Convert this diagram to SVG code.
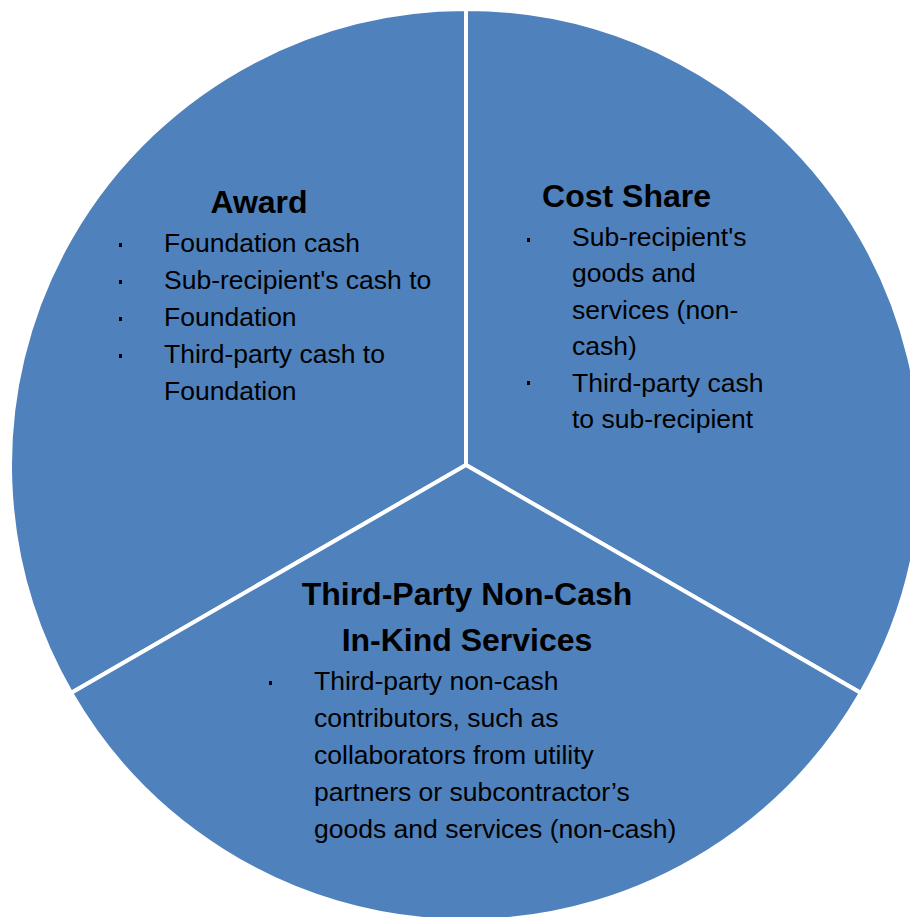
<svg xmlns="http://www.w3.org/2000/svg" width="910" height="917" viewBox="0 0 910 917">
<style>
.sector{fill:#4F81BD;stroke:#FFFFFF;stroke-width:4;stroke-linejoin:miter}
.title{font-family:"Liberation Sans",Arial,sans-serif;font-weight:bold;font-size:32px;fill:#000;text-anchor:middle}
.body{font-family:"Liberation Sans",Arial,sans-serif;font-size:26.5px;fill:#000}
.bullet{fill:#000}
</style>
<rect width="910" height="917" fill="#FFFFFF"/>
<g id="award">
<path class="sector" d="M466,465 L466,9 A456,456 0 0 0 71.1,693 Z"/>
<text class="title" x="259" y="213">Award</text>
<rect class="bullet" x="119" y="243" width="3" height="4"/>
<rect class="bullet" x="119" y="280" width="3" height="4"/>
<rect class="bullet" x="119" y="317" width="3" height="4"/>
<rect class="bullet" x="119" y="354" width="3" height="4"/>
<text class="body" x="164" y="252">Foundation cash</text>
<text class="body" x="164" y="289">Sub-recipient's cash to</text>
<text class="body" x="164" y="326">Foundation</text>
<text class="body" x="164" y="363">Third-party cash to</text>
<text class="body" x="164" y="400">Foundation</text>
</g>
<g id="cost-share">
<path class="sector" d="M466,465 L466,9 A456,456 0 0 1 860.9,693 Z"/>
<text class="title" x="626.5" y="207">Cost Share</text>
<rect class="bullet" x="527" y="238" width="3" height="4"/>
<rect class="bullet" x="527" y="381" width="3" height="4"/>
<text class="body" x="572" y="246">Sub-recipient's</text>
<text class="body" x="572" y="282">goods and</text>
<text class="body" x="572" y="319">services (non-</text>
<text class="body" x="572" y="355">cash)</text>
<text class="body" x="572" y="392">Third-party cash</text>
<text class="body" x="572" y="428">to sub-recipient</text>
</g>
<g id="third-party">
<path class="sector" d="M466,465 L860.9,693 A456,456 0 0 1 71.1,693 Z"/>
<text class="title" x="467" y="605">Third-Party Non-Cash</text>
<text class="title" x="467" y="651">In-Kind Services</text>
<rect class="bullet" x="269" y="681" width="3" height="4"/>
<text class="body" x="314" y="690">Third-party non-cash</text>
<text class="body" x="314" y="727">contributors, such as</text>
<text class="body" x="314" y="764">collaborators from utility</text>
<text class="body" x="314" y="801">partners or subcontractor’s</text>
<text class="body" x="314" y="838">goods and services (non-cash)</text>
</g>
</svg>
